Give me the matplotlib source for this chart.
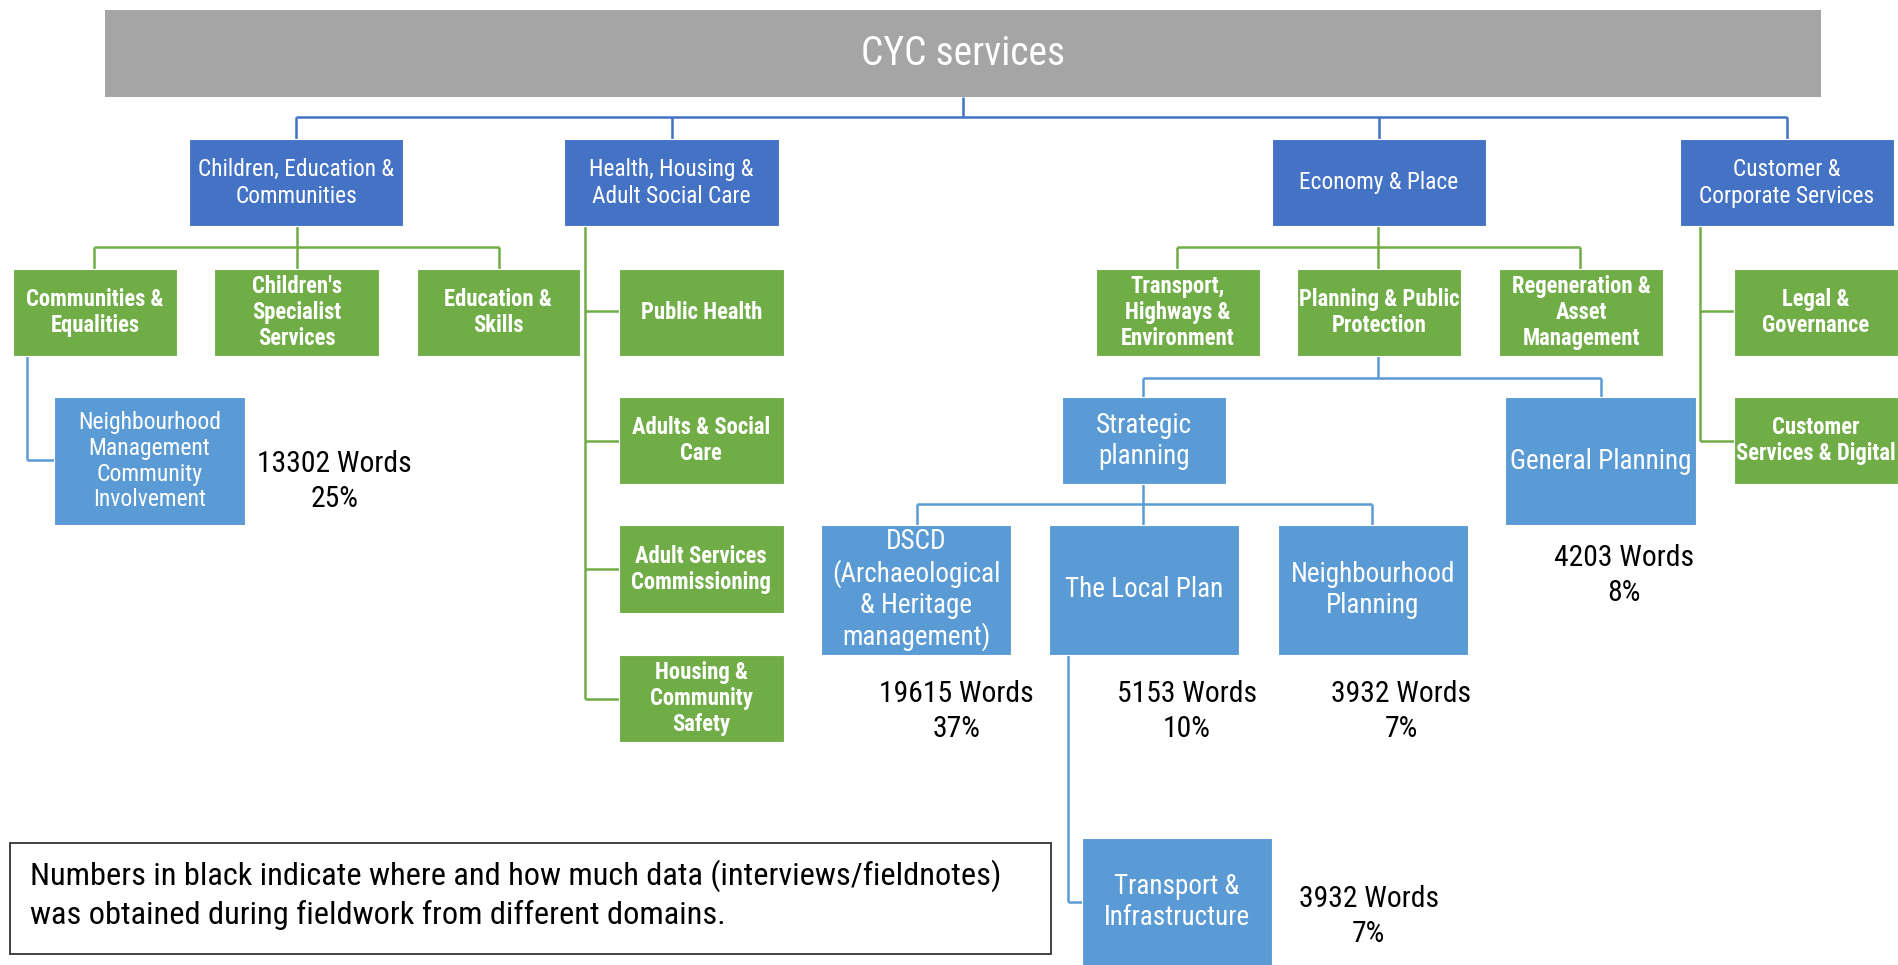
import matplotlib.pyplot as plt
from matplotlib import font_manager
from matplotlib.patches import Rectangle

# buscar una fuente estrecha parecida a Calibri
instaladas = {f.name for f in font_manager.fontManager.ttflist}
preferidas = ['Liberation Sans Narrow', 'Roboto Condensed', 'Open Sans Condensed',
              'Noto Sans Condensed', 'Lato', 'Liberation Sans']
fuente = next((f for f in preferidas if f in instaladas), 'DejaVu Sans')
plt.rcParams['font.family'] = [fuente, 'DejaVu Sans']

# textos del organigrama
titulo = "CYC services"
directorados = ["Children, Education &\nCommunities", "Health, Housing &\nAdult Social Care",
                "Economy & Place", "Customer &\nCorporate Services"]
servicios_cec = ["Communities &\nEqualities", "Children's\nSpecialist\nServices", "Education &\nSkills"]
servicios_hhasc = ["Public Health", "Adults & Social\nCare", "Adult Services\nCommissioning",
                   "Housing &\nCommunity\nSafety"]
servicios_ep = ["Transport,\nHighways &\nEnvironment", "Planning & Public\nProtection",
                "Regeneration &\nAsset\nManagement"]
servicios_ccs = ["Legal &\nGovernance", "Customer\nServices & Digital"]
equipos = ["Neighbourhood\nManagement\nCommunity\nInvolvement", "Strategic\nplanning", "General Planning",
           "DSCD\n(Archaeological\n& Heritage\nmanagement)", "The Local Plan", "Neighbourhood\nPlanning",
           "Transport &\nInfrastructure"]
palabras = [13302, 4203, 19615, 5153, 3932, 3932]
porcentajes = [25, 8, 37, 10, 7, 7]
nota = ("Numbers in black indicate where and how much data (interviews/fieldnotes)\n"
        "was obtained during fieldwork from different domains.")

# colores
GRIS = '#A5A5A5'
AZUL = '#4472C4'
VERDE = '#70AD47'
CELESTE = '#5B9BD5'

fig = plt.figure(figsize=(18.99, 9.65), dpi=100)
ax = fig.add_axes([0, 0, 1, 1])
ax.set_xlim(0, 1568)
ax.set_ylim(797, 0)
ax.axis('off')


def caja(rect, texto, color, size, bold=False, ls=1.15, ty=None):
    x0, y0, x1, y1 = rect
    ax.add_patch(Rectangle((x0, y0), x1 - x0, y1 - y0, facecolor=color,
                           edgecolor='white', linewidth=0.8, zorder=2))
    if ty is None:
        ty = (y0 + y1) / 2
    ax.text((x0 + x1) / 2, ty, texto, color='white', fontsize=size, ha='center', va='center',
            fontweight='bold' if bold else 'normal', linespacing=ls, zorder=3)


def linea(xs, ys, color):
    ax.plot(xs, ys, color=color, linewidth=1.8, zorder=1, solid_capstyle='butt')


def rama(x_padre, y_padre, y_bar, xs_hijos, y_hijos, color):
    linea([x_padre, x_padre], [y_padre, y_bar], color)
    linea([min(xs_hijos), max(xs_hijos)], [y_bar, y_bar], color)
    for xh in xs_hijos:
        linea([xh, xh], [y_bar, y_hijos], color)


def lateral(x_linea, y_padre, ys_hijos, x_hijo, color):
    linea([x_linea, x_linea], [y_padre, max(ys_hijos)], color)
    for yh in ys_hijos:
        linea([x_linea, x_hijo], [yh, yh], color)


# cabecera
ax.add_patch(Rectangle((87, 8), 1504 - 87, 72, facecolor=GRIS, edgecolor='none', zorder=2))
ax.text(795, 44, titulo, color='white', fontsize=28.5, ha='center', va='center', zorder=3)

# nivel 1
pos_dir = [(156, 115, 333, 187), (466, 115, 643, 187), (1050, 115, 1227, 187), (1387, 115, 1564, 187)]
rama(795, 80, 97, [(r[0] + r[2]) / 2 for r in pos_dir], 115, AZUL)
for r, t in zip(pos_dir, directorados):
    caja(r, t, AZUL, 16.8, ls=1.2)

# nivel 2 - Children, Education & Communities
pos_cec = [(11, 222, 146, 294), (177, 222, 313, 294), (344, 222, 479, 294)]
rama(245, 187, 204, [78, 245, 412], 222, VERDE)
for r, t in zip(pos_cec, servicios_cec):
    caja(r, t, VERDE, 16.3, bold=True, ls=1.16)

# nivel 2 - Health, Housing & Adult Social Care
pos_hh = [(511, 222, 647, 294), (511, 328, 647, 400), (511, 434, 647, 506), (511, 541, 647, 613)]
lateral(483, 187, [257, 364, 470, 577], 511, VERDE)
for r, t in zip(pos_hh, servicios_hhasc):
    caja(r, t, VERDE, 16.3, bold=True, ls=1.16)

# nivel 2 - Economy & Place
pos_ep = [(905, 222, 1040, 294), (1071, 222, 1206, 294), (1238, 222, 1373, 294)]
rama(1138, 187, 204, [972, 1138, 1305], 222, VERDE)
for r, t in zip(pos_ep, servicios_ep):
    caja(r, t, VERDE, 16.3, bold=True, ls=1.16)

# nivel 2 - Customer & Corporate Services
pos_cc = [(1432, 222, 1567, 294), (1432, 328, 1567, 400)]
lateral(1404, 187, [257, 364], 1432, VERDE)
for r, t in zip(pos_cc, servicios_ccs):
    caja(r, t, VERDE, 16.3, bold=True, ls=1.16)

# equipos
pos_eq = [(45, 328, 202, 434), (877, 328, 1012, 400), (1243, 328, 1400, 434),
          (678, 434, 835, 541), (866, 434, 1023, 541), (1055, 434, 1212, 541), (893, 692, 1050, 800)]
linea([22, 22], [294, 380], CELESTE)
linea([22, 45], [380, 380], CELESTE)
rama(1138, 294, 312, [944, 1322], 328, CELESTE)
rama(944, 400, 416, [757, 944, 1133], 434, CELESTE)
linea([882, 882], [541, 745], CELESTE)
linea([882, 893], [745, 745], CELESTE)
tam_eq = [17, 19.5, 19.5, 19.5, 19.5, 19.5, 19.5]
ls_eq = [1.15, 1.18, 1.18, 1.18, 1.18, 1.18, 1.18]
ty_eq = [None, 364, 381, 487, 487, 487, 745]
for r, t, s, l, ty in zip(pos_eq, equipos, tam_eq, ls_eq, ty_eq):
    caja(r, t, CELESTE, s, ls=l, ty=ty)

# cantidades de palabras
pos_pal = [(276, 398), (1341, 475), (790, 588), (980, 588), (1157, 588), (1130, 757)]
for (x, y), p, c in zip(pos_pal, palabras, porcentajes):
    ax.text(x, y, f"{p} Words\n{c}%", fontsize=21.3, ha='center', va='center', linespacing=1.32,
            color='black', zorder=3)

# nota
ax.add_patch(Rectangle((8, 696), 860, 92, facecolor='white', edgecolor='#333333', linewidth=1.3, zorder=2))
ax.text(25, 739, nota, fontsize=23.3, ha='left', va='center', linespacing=1.3, zorder=3)

fig.savefig('out.png', dpi=100)
